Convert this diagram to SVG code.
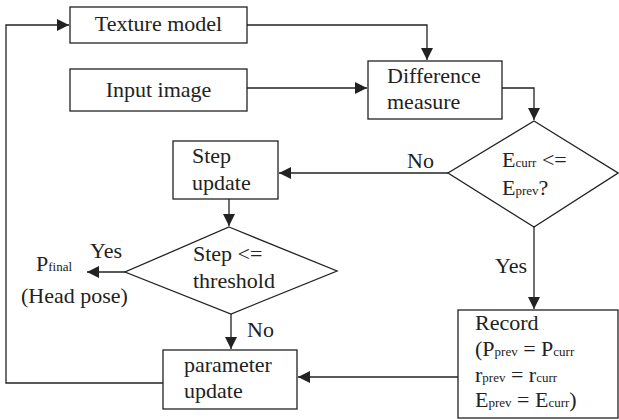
<svg xmlns="http://www.w3.org/2000/svg" width="619" height="420" viewBox="0 0 619 420">
<style>
.box{fill:#fff;stroke:#222;stroke-width:1.3}
.c{fill:none;stroke:#222;stroke-width:1.3}
.t{font-family:"Liberation Serif","Times New Roman",serif;font-size:22px;fill:#222}
.s{font-size:13px}
</style>
<defs>
<marker id="a" markerUnits="userSpaceOnUse" markerWidth="12" markerHeight="12" viewBox="0 0 12 12" refX="12" refY="6" orient="auto">
<path d="M0,0 L12,6 L0,12 Z" fill="#222"/>
</marker>
</defs>
<g id="connectors">
<path class="c" d="M247,25 H427 V60" marker-end="url(#a)"/>
<path class="c" d="M247,88 H367" marker-end="url(#a)"/>
<path class="c" d="M502,88 H534 V120" marker-end="url(#a)"/>
<path class="c" d="M448,173 H279" marker-end="url(#a)"/>
<path class="c" d="M229,199 V226" marker-end="url(#a)"/>
<path class="c" d="M125,272 H87" marker-end="url(#a)"/>
<path class="c" d="M231,314 V349" marker-end="url(#a)"/>
<path class="c" d="M534,227 V309" marker-end="url(#a)"/>
<path class="c" d="M458,377 H298" marker-end="url(#a)"/>
<path class="c" d="M163,383 H6 V25 H69" marker-end="url(#a)"/>
<text class="t" x="407" y="168">No</text>
<text class="t" x="495" y="273">Yes</text>
<text class="t" x="90" y="258">Yes</text>
<text class="t" x="247" y="337">No</text>
</g>
<g id="texture-model">
<rect class="box" x="70" y="7" width="177" height="36"/>
<text class="t" x="158.5" y="31" text-anchor="middle">Texture model</text>
</g>
<g id="input-image">
<rect class="box" x="70" y="69" width="177" height="42"/>
<text class="t" x="158.5" y="97" text-anchor="middle">Input image</text>
</g>
<g id="difference-measure">
<rect class="box" x="368" y="61" width="134" height="58"/>
<text class="t" x="387" y="83">Difference</text>
<text class="t" x="387" y="109">measure</text>
</g>
<g id="decision-error">
<path class="box" d="M534,121 L618,173 L534,227 L448,173 Z"/>
<text class="t" x="502" y="167">E<tspan class="s">curr</tspan> &lt;=</text>
<text class="t" x="502" y="195">E<tspan class="s">prev</tspan>?</text>
</g>
<g id="step-update">
<rect class="box" x="173" y="141" width="105" height="58"/>
<text class="t" x="192" y="163">Step</text>
<text class="t" x="192" y="190">update</text>
</g>
<g id="decision-step">
<path class="box" d="M229,227 L337,271 L231,314 L125,272 Z"/>
<text class="t" x="193" y="261">Step &lt;=</text>
<text class="t" x="193" y="288">threshold</text>
</g>
<g id="p-final">
<text class="t" x="36" y="271">P<tspan class="s">final</tspan></text>
<text class="t" x="21" y="303">(Head pose)</text>
</g>
<g id="parameter-update">
<rect class="box" x="163" y="350" width="134" height="59"/>
<text class="t" x="184" y="372">parameter</text>
<text class="t" x="184" y="398">update</text>
</g>
<g id="record">
<rect class="box" x="458" y="310" width="160" height="108"/>
<text class="t" x="475" y="330">Record</text>
<text class="t" x="475" y="356">(P<tspan class="s">prev</tspan> = P<tspan class="s">curr</tspan></text>
<text class="t" x="475" y="382">r<tspan class="s">prev</tspan> = r<tspan class="s">curr</tspan></text>
<text class="t" x="475" y="407">E<tspan class="s">prev</tspan> = E<tspan class="s">curr</tspan>)</text>
</g>
</svg>
